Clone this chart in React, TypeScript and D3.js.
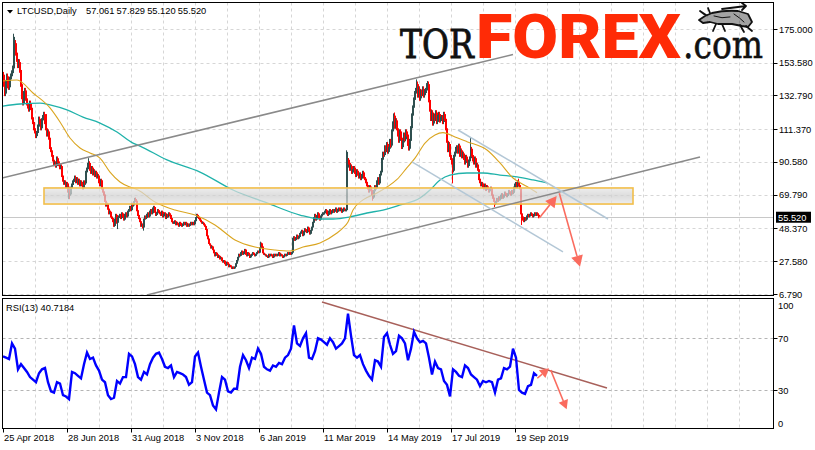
import React from 'react';
import * as d3 from 'd3';

// ---------- DATA ----------
const startDate = new Date(2018, 3, 25);
const firstOpen = 146;
// daily closes, index 0 = 25 Apr 2018
const closes: number[] = [
  140,134,141,145,139,138,143,145,147,150,
  163,166,
  160,156,152,154,149,
  140,132,128,134,
  136,131,128,126,124,128,125,
  119,
  116,112,110,107,109,
  113,118,116,112,117,119,121,
  116,112,108,110,106,
  100,98,95,92,
  89,90,88,93,91,89,87,88,
  82,79,77,78,75,
  77,72,74,70,74,76,78,
  79,81,78,80,77,79,76,78,
  76,74,78,77,
  84,86,89,90,86,
  84,87,83,85,82,84,81,82,
  78,76,79,74,72,70,
  66,63,64,61,58,59,56,55,53,
  50,54,57,52,55,56,
  57,55,58,56,54,57,58,56,59,60,
  62,60,64,63,65,67,66,
  60,57,
  55,53,50,51,49,54,56,55,
  57,58,56,59,60,58,61,62,59,57,58,60,59,
  58,57,59,56,57,58,55,57,56,58,57,55,
  53,52,52,53,51,52,51,50,52,51,50,51,52,
  51,52,50,51,50,51,52,51,52,51,
  53,55,57,56,55,54,
  53,52,52,51,50,48,44,42,
  39,38,36,37,35,33,31,
  33,32,30,31,29,30,28,
  27,28,26,25,27,26,24,25,24,23,24,23,
  24,26,28,30,32,31,33,34,32,33,35,
  32,31,33,32,30,31,32,33,32,31,32,33,34,33,
  36,39,37,33,32,
  32,31,31,30,32,31,32,31,30,32,31,32,
  31,32,33,31,32,31,30,31,32,31,32,33,32,33,32,33,
  42,
  43,41,42,44,42,43,45,
  46,47,44,46,48,47,46,49,47,45,47,49,
  52,55,57,54,56,58,55,54,56,57,58,
  58,59,60,58,57,59,60,58,59,60,59,
  60,61,59,60,61,60,61,59,60,61,60,60,
  87,92,
  90,86,88,84,85,
  87,84,82,85,83,81,83,80,82,84,81,80,
  78,76,74,72,75,73,70,68,
  72,75,74,78,80,77,82,84,
  92,96,95,100,98,
  102,97,99,104,101,
  110,115,120,113,117,
  112,108,104,110,106,100,103,108,105,110,
  108,102,99,104,112,
  120,125,130,134,136,
  140,133,137,131,135,
  134,137,133,135,136,139,140,
  130,124,118,122,115,
  120,118,122,116,119,121,117,118,
  119,116,121,118,112,
  104,98,102,95,93,
  90,85,94,96,99,
  100,97,101,95,98,94,96,
  93,90,94,92,88,91,93,
  99,
  95,92,90,93,88,89,86,
  80,78,76,77,75,
  74,76,73,75,74,72,73,74,
  70,68,66,64,65,67,66,
  68,67,69,70,68,69,71,70,69,70,72,71,70,72,71,
  74,76,77,75,78,76,
  74,58,
  56,54,53,55,54,
  56,57,56,57,58,57,56,57,58,57,58,57.06,55.52,
];
// read-off extreme wicks [bar index, price]
const highMarks: [number, number][] = [[10,172],[11,170],[13,162],[43,121],[85,93],[132,68],[257,40],[343,98],[344,97],[391,122],[413,143],[424,142],[467,106],[515,80]];
const lowMarks: [number, number][] = [[65,67],[66,67],[114,48],[140,47],[229,22.6],[369,66],[449,77],[491,62],[518,50.6]];

// moving averages [bar index, value]
const maOrange: [number, number][] = [[0,142],[14,142.6],[30,134.4],[47,124.9],[57,116],[67,105.8],[77,99.5],[87,96.3],[97,93.1],[107,84.2],[117,77.9],[127,74.7],[135,72.8],[152,65.2],[172,60.1],[192,56.9],[212,50.6],[232,41.1],[252,36.6],[272,34.7],[287,34.1],[300,36.6],[317,39.2],[334,45.5],[340,48.7],[345,52.5],[350,60.1],[360,66.5],[374,70.9],[384,74.7],[394,79.5],[404,87],[412,93],[422,102.6],[432,107.7],[440,109.2],[452,106.5],[464,103.5],[484,98.2],[497,90],[510,80.4],[524,75],[534,71.1]];
const maTeal: [number, number][] = [[0,126.1],[17,127.4],[37,128],[47,126.8],[64,123.6],[80,119.1],[97,115.3],[114,109.6],[130,102.6],[137,100.7],[164,91.9],[197,84.2],[230,72.8],[264,64.6],[297,56.9],[317,54.4],[330,54.4],[347,55.7],[364,58.2],[380,60.1],[397,63.3],[417,67.7],[427,72.8],[437,79.2],[447,82.3],[464,83.6],[480,83.6],[497,82.3],[514,81.1],[530,79.2],[544,77.3]];

// RSI(13) read every 3 bars (index = 3*k)
const rsiValues: number[] = [
  56,55,54,66,62,46,50,47,44,40,
  38,36,43,46,47,36,29,28,36,35,
  26,25,23,44,43,41,39,50,59,54,
  55,49,45,38,36,26,23,24,37,35,
  40,40,58,56,50,40,38,44,42,50,
  55,58,59,54,48,47,49,40,44,43,
  42,40,34,36,56,59,48,38,28,26,
  18,15,28,40,38,29,28,31,31,48,
  57,53,47,55,54,62,58,48,46,45,
  49,48,51,50,55,57,62,80,66,64,
  70,74,55,54,60,70,69,67,65,70,
  67,62,64,66,70,89,72,57,55,57,
  50,45,41,38,53,52,48,71,74,65,
  58,60,72,70,66,53,62,75,70,67,
  68,66,55,42,52,47,46,37,34,25,
  46,44,41,40,49,47,42,40,38,33,
  37,36,37,36,28,38,39,47,46,48,
  62,55,30,28,27,33,34,43,41,
];

// drawn objects [bar index, price]
const channelUpper: [number, number][] = [[-1, 80.4], [510, 158.8]];
const channelLower: [number, number][] = [[144, 6.2], [697, 93.8]];
const descUpper: [number, number][] = [[455, 110.9], [605, 54.4]];
const descLower: [number, number][] = [[409, 90.6], [560, 33.5]];
const zoneBars: number[] = [41, 630];
const zonePrices: number[] = [63.9, 74.1];
const priceArrows: [number, number][][] = [[[536.3, 55.0], [553.7, 69.0]], [[556.3, 70.7], [577, 24.1]]];
const rsiTrend: [number, number][] = [[319, 98.1], [604, 31.6]];
const rsiArrows: [number, number][][] = [[[534.3, 39.1], [546, 46.8]], [[547.7, 45.5], [563.7, 15.1]]];

const priceTicks: number[] = [175.0, 153.58, 132.79, 111.37, 90.58, 69.79, 48.37, 27.58, 6.79];
const rsiTicks: number[] = [100, 70, 30, 0];
const xTickLabels: string[] = ['25 Apr 2018', '28 Jun 2018', '31 Aug 2018', '3 Nov 2018', '6 Jan 2019', '11 Mar 2019', '14 May 2019', '17 Jul 2019', '19 Sep 2019'];
const headerSymbol = 'LTCUSD,Daily';
const headerOHLC: string[] = ['57.061', '57.829', '55.120', '55.520'];
const lastPrice = 55.52;
const rsiLabel = 'RSI(13) 40.7184';

// ---------- LAYOUT ----------
const PL = 2.5, PR = 773.5, PT = 2.5, PB = 295.5, RT = 298.5, RB = 428.5;
const FONT = "'Liberation Sans', Arial, sans-serif";
const UP = '#2F4F4F', DOWN = '#FF0000';

function arrowHead(x1: number, y1: number, x2: number, y2: number, len: number, half: number) {
  const a = Math.atan2(y2 - y1, x2 - x1);
  const bx = x2 - len * Math.cos(a), by = y2 - len * Math.sin(a);
  const px = -Math.sin(a), py = Math.cos(a);
  return { path: `M${x2},${y2}L${bx + half * px},${by + half * py}L${bx - half * px},${by - half * py}Z`, bx, by };
}

export default function App() {
  const x = d3.scaleLinear().domain([0, 771]).range([3, 774]);
  const y = d3.scaleLinear().domain([6.79, 175]).range([294, 29]);
  const yr = d3.scaleLinear().domain([0, 100]).range([428.8, 299.5]);

  const hiMap = new Map(highMarks);
  const loMap = new Map(lowMarks);
  const bars = closes.map((c, i) => {
    const o = i === 0 ? firstOpen : closes[i - 1];
    const h = hiMap.get(i) ?? Math.max(o, c) * 1.012;
    const l = loMap.get(i) ?? Math.min(o, c) * 0.988;
    return { i, o, c, h, l };
  });

  const line = d3.line<[number, number]>().x(d => x(d[0])).y(d => y(d[1]));
  const maLine = d3.line<[number, number]>().x(d => x(d[0])).y(d => y(d[1])).curve(d3.curveMonotoneX);
  const rsiLine = d3.line<number>().x((_, k) => x(k * 3)).y(d => yr(d));
  const rline = d3.line<[number, number]>().x(d => x(d[0])).y(d => yr(d[1]));

  const gridX: number[] = d3.range(32, 760, 32);
  const dates = xTickLabels.map((_, k) => d3.timeDay.offset(startDate, k * 64));

  const mkArrow = (seg: [number, number][], sy: (v: number) => number, len: number, half: number, key: string) => {
    const x1 = x(seg[0][0]), y1 = sy(seg[0][1]), x2 = x(seg[1][0]), y2 = sy(seg[1][1]);
    const h = arrowHead(x1, y1, x2, y2, len, half);
    return (
      <g key={key}>
        <line x1={x1} y1={y1} x2={h.bx} y2={h.by} stroke="#FA6B5E" strokeWidth={1.6} />
        <path d={h.path} fill="#FA6B5E" />
      </g>
    );
  };

  return (
    <svg width={815} height={450} style={{ position: 'absolute', left: 0, top: 0, background: '#fff' }}>
      <defs>
        <clipPath id="cp"><rect x={PL} y={PT} width={PR - PL} height={PB - PT} /></clipPath>
        <clipPath id="cr"><rect x={PL} y={RT} width={PR - PL} height={RB - RT} /></clipPath>
        <linearGradient id="zg" x1="0" y1="0" x2="0" y2="1">
          <stop offset="0" stopColor="#e6e6e6" />
          <stop offset="0.5" stopColor="#d0d0d0" />
          <stop offset="1" stopColor="#e6e6e6" />
        </linearGradient>
      </defs>
      <rect x={0} y={0} width={815} height={450} fill="#fff" />

      {/* grid */}
      <g stroke="#d6d6d6" strokeWidth={1} strokeDasharray="3,3">
        {priceTicks.map((v, k) => (
          <line key={'h' + k} x1={PL} x2={PR} y1={Math.round(y(v)) + 0.5} y2={Math.round(y(v)) + 0.5} />
        ))}
        {gridX.map(i => (
          <line key={'v' + i} x1={Math.round(x(i)) + 0.5} x2={Math.round(x(i)) + 0.5} y1={PT} y2={PB} />
        ))}
        {gridX.map(i => (
          <line key={'rv' + i} x1={Math.round(x(i)) + 0.5} x2={Math.round(x(i)) + 0.5} y1={RT} y2={RB} />
        ))}
      </g>
      <g stroke="#b4b4b4" strokeWidth={1} strokeDasharray="3,3">
        {[70, 30].map(v => (
          <line key={'rl' + v} x1={PL} x2={PR} y1={Math.round(yr(v)) + 0.5} y2={Math.round(yr(v)) + 0.5} />
        ))}
      </g>

      {/* logo */}
      <g>
        <text transform="translate(400,57.5) scale(1,1.2)" fontFamily="'DejaVu Serif', serif" fontSize={33} fill="#111" stroke="#111" strokeWidth={0.7}>TOR</text>
        <text x={476} y={58} fontFamily="Roboto, 'Open Sans', sans-serif" fontWeight={900} fontSize={62} fill="#FF2B06" textLength={205} lengthAdjust="spacingAndGlyphs">FOREX</text>
        <text transform="translate(683,58) scale(1,1.2)" fontFamily="'DejaVu Serif', serif" fontSize={33} fill="#111" stroke="#111" strokeWidth={0.5}>.com</text>
        <g fill="none" stroke="#111" strokeWidth={1.8} strokeLinejoin="round" strokeLinecap="round">
          <path d="M712,13 Q725,10 738,11 L748,14 L752,22 L748,27 L742,26 L732,24 L718,24 L710,22 L703,23 L699,20 L705,16 Z" fill="#333" fillOpacity={0.45} />
          <path d="M706,15 L700,11 L704,14 M710,13 L708,8" />
          <path d="M722,9 L746,6 M742,3 L746,6 L742,10" />
          <path d="M716,24 L713,31 M722,24 L725,31 M740,25 L744,32 M746,26 L752,31" />
          <path d="M714,16 Q722,19 730,17 M734,14 Q740,18 744,22" strokeWidth={1} />
        </g>
      </g>

      {/* price panel content */}
      <g clipPath="url(#cp)">
        <line x1={PL} x2={PR} y1={Math.round(y(lastPrice)) + 0.5} y2={Math.round(y(lastPrice)) + 0.5} stroke="#c8c8c8" strokeWidth={1} />
        {bars.map(b => {
          const cx = Math.round(x(b.i));
          const col = b.c >= b.o ? UP : DOWN;
          const top = y(Math.max(b.o, b.c)), bot = y(Math.min(b.o, b.c));
          return (
            <g key={b.i}>
              <line x1={cx + 0.5} x2={cx + 0.5} y1={y(b.h)} y2={y(b.l)} stroke={col} strokeWidth={1} />
              <rect x={cx} y={top} width={2} height={Math.max(1, bot - top)} fill={col} />
            </g>
          );
        })}
        <path d={maLine(maTeal) || ''} fill="none" stroke="#20B2AA" strokeWidth={1.3} />
        <path d={maLine(maOrange) || ''} fill="none" stroke="#DAA520" strokeWidth={1.1} />
        <rect x={x(zoneBars[0])} y={y(zonePrices[1])} width={x(zoneBars[1]) - x(zoneBars[0])} height={y(zonePrices[0]) - y(zonePrices[1])}
          fill="url(#zg)" fillOpacity={0.72} stroke="#F2BE4A" strokeWidth={1.6} />
        <path d={line(channelUpper) || ''} stroke="#8a8a8a" strokeWidth={1.5} fill="none" />
        <path d={line(channelLower) || ''} stroke="#8a8a8a" strokeWidth={1.5} fill="none" />
        <path d={line(descUpper) || ''} stroke="#b3c7d6" strokeWidth={1.5} fill="none" />
        <path d={line(descLower) || ''} stroke="#b3c7d6" strokeWidth={1.5} fill="none" />
        {priceArrows.map((s, k) => mkArrow(s, y, 11, 6, 'pa' + k))}
      </g>

      {/* RSI panel content */}
      <g clipPath="url(#cr)">
        <path d={rline(rsiTrend) || ''} stroke="#A8605A" strokeWidth={1.5} fill="none" />
        <path d={rsiLine(rsiValues) || ''} fill="none" stroke="#0000FF" strokeWidth={2.4} strokeLinejoin="miter" />
        {rsiArrows.map((s, k) => mkArrow(s, yr, 9, 5, 'ra' + k))}
      </g>

      {/* frames */}
      <rect x={PL} y={PT} width={PR - PL} height={PB - PT} fill="none" stroke="#000" strokeWidth={1} />
      <rect x={PL} y={RT} width={PR - PL} height={RB - RT} fill="none" stroke="#000" strokeWidth={1} />

      {/* header */}
      <path d="M7,10 L13,10 L10,13.5 Z" fill="#000" />
      <text x={17} y={14} fontFamily={FONT} fontSize={9.3} fill="#000">{headerSymbol}</text>
      {headerOHLC.map((s, k) => (
        <text key={s + k} x={86 + k * 30.6} y={14} fontFamily={FONT} fontSize={9.3} fill="#000">{s}</text>
      ))}
      <text x={6} y={311} fontFamily={FONT} fontSize={9.3} fill="#000">{rsiLabel}</text>

      {/* price axis */}
      {priceTicks.map((v, k) => (
        <g key={'pt' + k}>
          <line x1={PR} x2={PR + 4} y1={Math.round(y(v)) + 0.5} y2={Math.round(y(v)) + 0.5} stroke="#000" />
          <text x={779} y={y(v) + 3.5} fontFamily={FONT} fontSize={9.3} fill="#000">{v.toFixed(3)}</text>
        </g>
      ))}
      <rect x={776} y={y(lastPrice) - 5.5} width={35} height={11} fill="#000" />
      <text x={778} y={y(lastPrice) + 3.5} fontFamily={FONT} fontSize={9.3} fill="#fff">{lastPrice.toFixed(3)}</text>

      {/* rsi axis */}
      {rsiTicks.map(v => {
        const cy = Math.min(423, Math.max(305, yr(v)));
        return (
          <g key={'rt' + v}>
            {v !== 100 && v !== 0 && <line x1={PR} x2={PR + 4} y1={Math.round(yr(v)) + 0.5} y2={Math.round(yr(v)) + 0.5} stroke="#000" />}
            <text x={778} y={cy + 3.5} fontFamily={FONT} fontSize={9.3} fill="#000">{v}</text>
          </g>
        );
      })}

      {/* time axis */}
      {xTickLabels.map((s, k) => {
        const px = Math.round(x(d3.timeDay.count(startDate, dates[k]))) + 0.5;
        return (
          <g key={'xt' + k}>
            <line x1={px} x2={px} y1={RB} y2={RB + 4} stroke="#000" />
            <text x={px + 0.5} y={441} fontFamily={FONT} fontSize={9.3} fill="#000">{s}</text>
          </g>
        );
      })}
    </svg>
  );
}
